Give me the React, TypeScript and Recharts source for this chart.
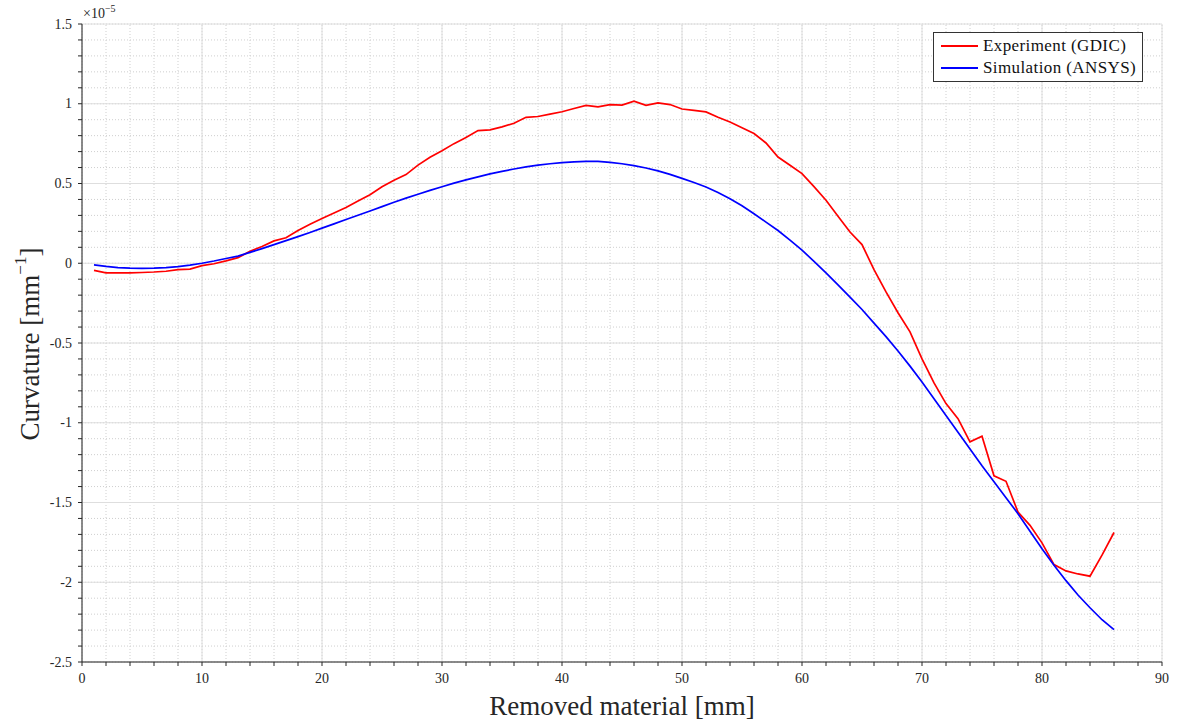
import React from 'react';
import { LineChart, Line, XAxis, YAxis, ReferenceLine, Legend, Label } from 'recharts';

const removed = [
  1, 2, 3, 4, 5, 6, 7, 8, 9, 10, 11, 12, 13, 14, 15, 16, 17, 18, 19, 20,
  21, 22, 23, 24, 25, 26, 27, 28, 29, 30, 31, 32, 33, 34, 35, 36, 37, 38, 39, 40,
  41, 42, 43, 44, 45, 46, 47, 48, 49, 50, 51, 52, 53, 54, 55, 56, 57, 58, 59, 60,
  61, 62, 63, 64, 65, 66, 67, 68, 69, 70, 71, 72, 73, 74, 75, 76, 77, 78, 79, 80,
  81, 82, 83, 84, 85, 86,
];

// curvature values in units of 1e-5 mm^-1
const experiment = [
  -0.045, -0.06, -0.06, -0.06, -0.058, -0.055, -0.05, -0.04, -0.037, -0.015,
  -0.003, 0.015, 0.035, 0.075, 0.105, 0.14, 0.16, 0.205, 0.245, 0.28,
  0.315, 0.35, 0.39, 0.43, 0.48, 0.52, 0.556, 0.615, 0.665, 0.705,
  0.75, 0.788, 0.832, 0.836, 0.855, 0.878, 0.915, 0.92, 0.935, 0.95,
  0.97, 0.99, 0.98, 0.995, 0.992, 1.016, 0.99, 1.005, 0.995, 0.967,
  0.958, 0.949, 0.915, 0.886, 0.85, 0.813, 0.754, 0.666, 0.614, 0.562,
  0.48, 0.395, 0.295, 0.196, 0.117, -0.04, -0.18, -0.31, -0.43, -0.6,
  -0.75, -0.88, -0.974, -1.12, -1.085, -1.333, -1.367, -1.56, -1.643, -1.753,
  -1.889, -1.929, -1.948, -1.962, -1.83, -1.688,
];

const simulation = [
  -0.01, -0.02, -0.027, -0.031, -0.032, -0.031, -0.027, -0.021, -0.012, 0.0,
  0.014, 0.03, 0.045, 0.068, 0.092, 0.117, 0.142, 0.167, 0.193, 0.22,
  0.247, 0.274, 0.301, 0.328, 0.355, 0.382, 0.408, 0.433, 0.457, 0.48,
  0.502, 0.523, 0.542, 0.56, 0.576, 0.591, 0.604, 0.615, 0.624, 0.631,
  0.636, 0.639, 0.639, 0.632, 0.624, 0.612, 0.597, 0.579, 0.557, 0.532,
  0.506, 0.478, 0.443, 0.405, 0.36, 0.31, 0.258, 0.205, 0.145, 0.082,
  0.012, -0.06, -0.135, -0.212, -0.29, -0.375, -0.46, -0.55, -0.645, -0.745,
  -0.85, -0.955, -1.06, -1.165, -1.27, -1.37, -1.47, -1.57, -1.68, -1.79,
  -1.893, -1.99, -2.08, -2.16, -2.235, -2.297,
];

const xTicks = [
  0, 2, 4, 6, 8, 10, 12, 14, 16, 18, 20, 22, 24, 26, 28, 30, 32, 34, 36, 38, 40,
  42, 44, 46, 48, 50, 52, 54, 56, 58, 60, 62, 64, 66, 68, 70, 72, 74, 76, 78, 80,
  82, 84, 86, 88, 90,
];
const xMajor = [0, 10, 20, 30, 40, 50, 60, 70, 80, 90];

const yTicks = [
  -2.5, -2.4, -2.3, -2.2, -2.1, -2, -1.9, -1.8, -1.7, -1.6, -1.5, -1.4, -1.3, -1.2,
  -1.1, -1, -0.9, -0.8, -0.7, -0.6, -0.5, -0.4, -0.3, -0.2, -0.1, 0, 0.1, 0.2, 0.3,
  0.4, 0.5, 0.6, 0.7, 0.8, 0.9, 1, 1.1, 1.2, 1.3, 1.4, 1.5,
];
const yMajor = [-2.5, -2, -1.5, -1, -0.5, 0, 0.5, 1, 1.5];

const data = removed.map((x, i) => ({ x, exp: experiment[i], sim: simulation[i] }));

const FONT = '"Liberation Serif", "DejaVu Serif", serif';
const AXIS = '#262626';

const isMajorY = (v: number) => Math.abs(v * 2 - Math.round(v * 2)) < 1e-6;

const XTick = (props: any) => {
  const { x, y, payload } = props;
  const v = payload.value;
  if (v % 10 !== 0) return <g />;
  return (
    <text x={x} y={y + 11} textAnchor="middle" fontFamily={FONT} fontSize={14} fill="#262626">
      {String(v)}
    </text>
  );
};

const YTick = (props: any) => {
  const { x, y, payload } = props;
  const v = payload.value;
  if (!isMajorY(v)) return <g />;
  return (
    <text x={x} y={y + 4.5} textAnchor="end" fontFamily={FONT} fontSize={14} fill="#262626">
      {String(v)}
    </text>
  );
};

const LegendBox = () => (
  <div
    style={{
      border: '1px solid #333',
      background: '#fff',
      padding: '2px 6px 2px 7px',
      fontFamily: FONT,
      fontSize: 17,
      letterSpacing: 0.4,
      lineHeight: '22px',
      color: '#111',
      whiteSpace: 'nowrap',
    }}
  >
    {[
      { name: 'Experiment (GDIC)', color: '#ff0000' },
      { name: 'Simulation (ANSYS)', color: '#0000ff' },
    ].map((e) => (
      <div key={e.name} style={{ display: 'flex', alignItems: 'center' }}>
        <span style={{ display: 'inline-block', width: 37, height: 2, background: e.color, marginRight: 5 }} />
        {e.name}
      </div>
    ))}
  </div>
);

export default function App() {
  return (
    <div style={{ position: 'absolute', left: 0, top: 0, width: 1177, height: 724, background: '#fff', fontFamily: FONT }}>
      <div
        style={{
          position: 'absolute',
          left: 83,
          top: 3,
          fontFamily: FONT,
          fontSize: 14,
          color: '#262626',
          zIndex: 2,
        }}
      >
        ×10<sup style={{ fontSize: 10 }}>−5</sup>
      </div>
      <LineChart width={1177} height={724} data={data} margin={{ top: 24, right: 15, left: 0, bottom: 0 }}>
        {xTicks.map((v) => (
          <ReferenceLine key={'mx' + v} x={v} stroke="#cfcfcf" strokeDasharray="1 2" />
        ))}
        {yTicks.map((v) => (
          <ReferenceLine key={'my' + v} y={v} stroke="#cfcfcf" strokeDasharray="1 2" />
        ))}
        {xMajor.map((v) => (
          <ReferenceLine key={'Mx' + v} x={v} stroke="#dedede" />
        ))}
        {yMajor.map((v) => (
          <ReferenceLine key={'My' + v} y={v} stroke="#dedede" />
        ))}
        <XAxis
          xAxisId="top"
          orientation="top"
          type="number"
          dataKey="x"
          domain={[0, 90]}
          ticks={xTicks}
          height={0}
          tickSize={4}
          tick={() => <g />}
          stroke={AXIS}
          allowDataOverflow
        />
        <XAxis
          dataKey="x"
          type="number"
          domain={[0, 90]}
          ticks={xTicks}
          interval={0}
          height={62}
          tickSize={4}
          tickMargin={6}
          stroke={AXIS}
          tick={<XTick />}
          allowDataOverflow
        >
          <Label
            content={() => (
              <text x={622} y={706} textAnchor="middle" dominantBaseline="central" fontFamily={FONT} fontSize={27} fill="#262626">
                Removed material [mm]
              </text>
            )}
          />
        </XAxis>
        <YAxis
          yAxisId="right"
          orientation="right"
          type="number"
          domain={[-2.5, 1.5]}
          ticks={yTicks}
          width={0}
          tickSize={4}
          tick={() => <g />}
          stroke={AXIS}
          allowDataOverflow
        />
        <YAxis
          type="number"
          domain={[-2.5, 1.5]}
          ticks={yTicks}
          interval={0}
          width={82}
          tickSize={4}
          tickMargin={6}
          stroke={AXIS}
          tick={<YTick />}
          allowDataOverflow
        >
          <Label
            content={() => (
              <text
                x={30}
                y={344}
                transform="rotate(-90 30 344)"
                textAnchor="middle"
                dominantBaseline="central"
                fontFamily={FONT}
                fontSize={27}
                fill="#262626"
              >
                Curvature  [mm
                <tspan baselineShift="super" fontSize={17}>−1</tspan>
                <tspan>]</tspan>
              </text>
            )}
          />
        </YAxis>
        <Line dataKey="exp" name="Experiment (GDIC)" stroke="#ff0000" strokeWidth={1.7} dot={false} type="linear" isAnimationActive={false} />
        <Line dataKey="sim" name="Simulation (ANSYS)" stroke="#0000ff" strokeWidth={1.7} dot={false} type="linear" isAnimationActive={false} />
        <Legend
          layout="vertical"
          align="center"
          verticalAlign="middle"
          content={() => <LegendBox />}
          wrapperStyle={{ left: 933, top: 32, width: 'auto', right: 'auto', bottom: 'auto' }}
        />
      </LineChart>
    </div>
  );
}
